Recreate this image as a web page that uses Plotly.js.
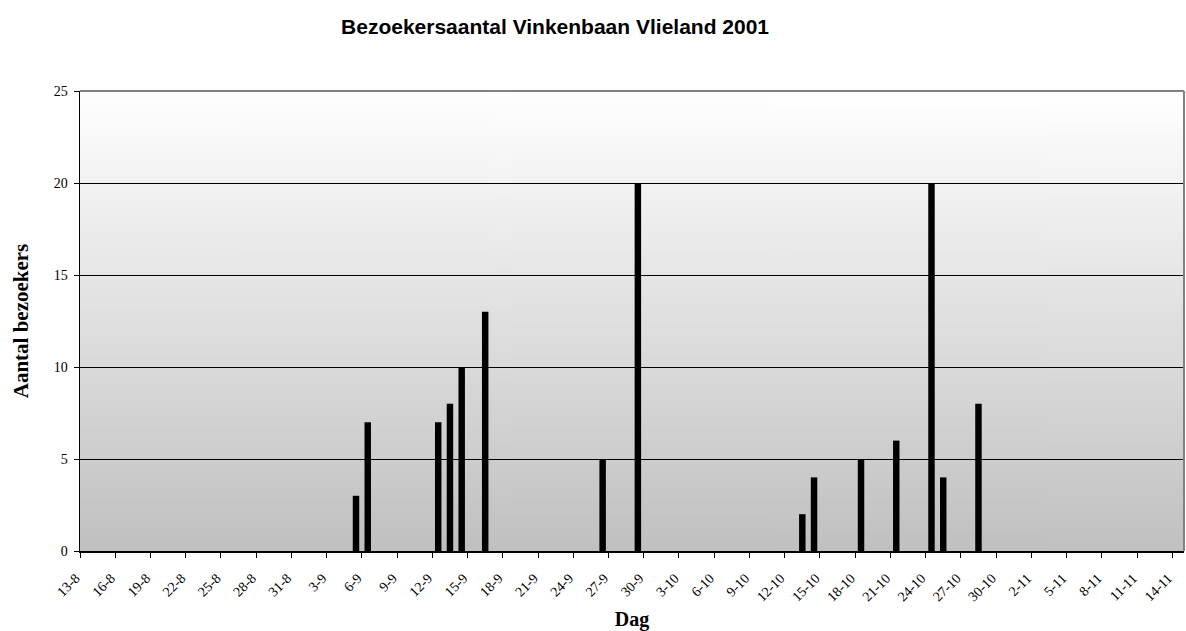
<!DOCTYPE html>
<html>
<head>
<meta charset="utf-8">
<script src="https://cdn.plot.ly/plotly-3.0.1.min.js"></script>
<style>
  html, body { margin: 0; padding: 0; background: #ffffff; }
  #chart { width: 1186px; height: 631px; }
</style>
</head>
<body>
<div id="chart"></div>
<script>
// ---- Data ----
const chartTitle = "Bezoekersaantal Vinkenbaan Vlieland 2001";
const xTitle = "Dag";
const yTitle = "Aantal bezoekers";
// Axis covers every day from 13-8 to 14-11 (2001)
const axisStart = [2001, 8, 13];
const axisEnd = [2001, 11, 14];
// Days with visitors and their counts
const visitDays = ["5-9", "6-9", "12-9", "13-9", "14-9", "16-9", "26-9", "29-9",
                   "13-10", "14-10", "18-10", "21-10", "24-10", "25-10", "28-10"];
const visitors  = [3, 7, 7, 8, 10, 13, 5, 20,
                   2, 4, 5, 6, 20, 4, 8];

// ---- Build category list (one per day) ----
const dayCategories = [];
{
  const d = new Date(axisStart[0], axisStart[1] - 1, axisStart[2]);
  const end = new Date(axisEnd[0], axisEnd[1] - 1, axisEnd[2]);
  while (d <= end) {
    dayCategories.push(d.getDate() + "-" + (d.getMonth() + 1));
    d.setDate(d.getDate() + 1);
  }
}

// ---- Background gradient for plot area ----
const cv = document.createElement("canvas");
cv.width = 4; cv.height = 256;
const ctx = cv.getContext("2d");
const g = ctx.createLinearGradient(0, 0, 0, 256);
g.addColorStop(0, "#ffffff");
g.addColorStop(1, "#c0c0c0");
ctx.fillStyle = g;
ctx.fillRect(0, 0, 4, 256);
const bgURL = cv.toDataURL("image/png");

const serif = "Liberation Serif, Times New Roman, serif";

const trace = {
  type: "bar",
  x: visitDays,
  y: visitors,
  width: 0.55,
  marker: { color: "#000000", line: { color: "#000000", width: 0 } },
  hoverinfo: "x+y"
};

const layout = {
  width: 1186,
  height: 631,
  margin: { l: 79.5, r: 1.5, t: 90.7, b: 79.5, pad: 0 },
  paper_bgcolor: "#ffffff",
  plot_bgcolor: "rgba(0,0,0,0)",
  showlegend: false,
  bargap: 0.45,
  title: {
    text: "<b>" + chartTitle + "</b>",
    font: { family: "Liberation Sans, Arial, sans-serif", size: 21, color: "#000000" },
    x: 0.468, xanchor: "center", xref: "container",
    y: 0.958, yanchor: "middle", yref: "container"
  },
  xaxis: {
    type: "category",
    categoryorder: "array",
    categoryarray: dayCategories,
    range: [-0.5, dayCategories.length - 0.5],
    tickmode: "linear",
    tick0: 0,
    dtick: 3,
    tickson: "boundaries",
    ticks: "outside",
    ticklen: 5,
    tickwidth: 1,
    tickcolor: "#000000",
    tickangle: -45,
    ticklabelshift: -10,
    ticklabelstandoff: 12,
    tickfont: { family: serif, size: 14, color: "#000000" },
    showgrid: false,
    showline: true,
    linecolor: "#000000",
    linewidth: 1.5,
    zeroline: false,
    automargin: false,
    fixedrange: true,
    title: {
      text: "<b>" + xTitle + "</b>",
      font: { family: serif, size: 20, color: "#000000" },
      standoff: 17
    }
  },
  yaxis: {
    range: [0, 25],
    tickmode: "linear",
    tick0: 0,
    dtick: 5,
    ticks: "outside",
    ticklen: 5,
    tickwidth: 1,
    tickcolor: "#000000",
    ticklabelstandoff: 3,
    tickfont: { family: serif, size: 14, color: "#000000" },
    showgrid: true,
    gridcolor: "#000000",
    gridwidth: 1,
    showline: true,
    linecolor: "#000000",
    linewidth: 1.5,
    zeroline: false,
    automargin: false,
    fixedrange: true,
    title: {
      text: "<b>" + yTitle + "</b>",
      font: { family: serif, size: 21, color: "#000000" },
      standoff: 19
    }
  },
  images: [{
    source: bgURL,
    xref: "paper", yref: "paper",
    x: 0, y: 1, sizex: 1, sizey: 1,
    xanchor: "left", yanchor: "top",
    sizing: "stretch",
    layer: "below"
  }],
  shapes: [
    { type: "line", xref: "paper", yref: "paper", x0: 0, x1: 1, y0: 1, y1: 1,
      line: { color: "#808080", width: 2 } },
    { type: "line", xref: "paper", yref: "paper", x0: 1, x1: 1, y0: 0, y1: 1,
      line: { color: "#808080", width: 2 } }
  ]
};

Plotly.newPlot("chart", [trace], layout, { displayModeBar: false, staticPlot: true });
</script>
</body>
</html>
